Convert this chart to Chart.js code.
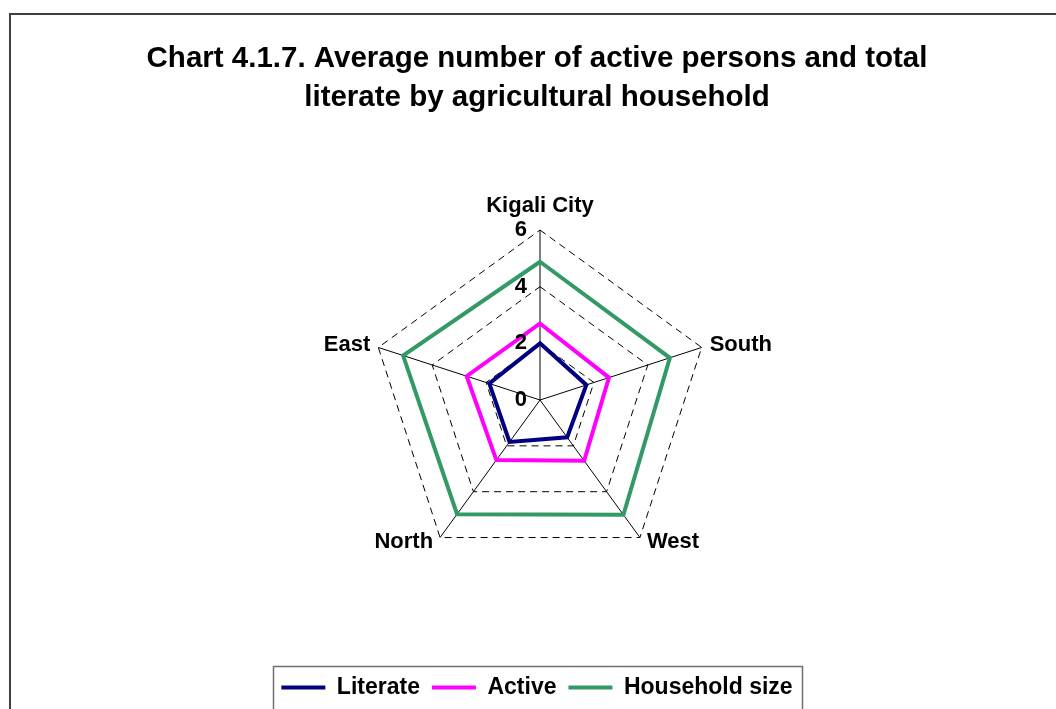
<!DOCTYPE html>
<html>
<head>
<meta charset="utf-8">
<script src="https://cdn.jsdelivr.net/npm/chart.js@4.4.1/dist/chart.umd.min.js"></script>
<style>
html,body{margin:0;padding:0;background:#fff;}
#wrap{width:1056px;height:709px;position:relative;overflow:hidden;}
</style>
</head>
<body>
<div id="wrap"><canvas id="c" width="1056" height="709"></canvas></div>
<script>
const categories = ['Kigali City', 'South', 'West', 'North', 'East'];
const literate = [2.0, 1.72, 1.63, 1.83, 1.88];
const active = [2.7, 2.56, 2.65, 2.62, 2.72];
const householdSize = [4.88, 4.82, 5.01, 4.98, 5.08];
const tickValues = [0, 2, 4, 6];
const tickLabels = ['0', '2', '4', '6'];
const seriesNames = ['Literate', 'Active', 'Household size'];
const titleLines = ['Chart 4.1.7. Average number of active persons and total', 'literate by agricultural household'];

const FONT = '"Liberation Sans", Arial, sans-serif';

const decor = {
  id: 'decor',
  beforeDraw(chart) {
    const c = chart.ctx;
    c.save();
    c.fillStyle = '#fff';
    c.fillRect(0, 0, chart.width, chart.height);
    c.strokeStyle = '#404040';
    c.lineWidth = 2;
    c.strokeRect(10, 14, 1100, 800);
    c.restore();
  },
  afterDatasetsDraw(chart) {
    const s = chart.scales.r;
    const c = chart.ctx;
    c.save();
    c.fillStyle = '#000';
    c.font = 'bold 22px ' + FONT;
    c.textAlign = 'right';
    c.textBaseline = 'middle';
    tickValues.forEach((v, i) => {
      const p = s.getPointPositionForValue(0, v);
      c.fillText(tickLabels[i], s.xCenter - 13, p.y);
    });
    categories.forEach((lab, i) => {
      const p = s.getPointPosition(i, s.drawingArea);
      const dx = p.x - s.xCenter, dy = p.y - s.yCenter;
      if (Math.abs(dx) < 1) {
        c.textAlign = 'center';
        c.textBaseline = 'alphabetic';
        c.fillText(lab, p.x, dy < 0 ? p.y - 18 : p.y + 30);
      } else {
        c.textAlign = dx > 0 ? 'left' : 'right';
        c.textBaseline = 'middle';
        const off = dy < 0 ? 8 : 7;
        c.fillText(lab, p.x + (dx > 0 ? off : -off), p.y + (dy < 0 ? -3 : 4));
      }
    });
    c.restore();
  },
  afterDraw(chart) {
    const lg = chart.legend;
    if (!lg || !lg.legendHitBoxes || !lg.legendHitBoxes.length) return;
    const hb = lg.legendHitBoxes;
    const last = hb[hb.length - 1];
    const l = hb[0].left - 8;
    const r = last.left + last.width + 10;
    const t = hb[0].top - 10;
    const c = chart.ctx;
    c.save();
    c.strokeStyle = '#707070';
    c.lineWidth = 1.5;
    c.strokeRect(Math.round(l) + 0.5, Math.round(t) + 0.5, Math.round(r - l), 100);
    c.restore();
  }
};

const colors = ['#000080', '#FF00FF', '#339966'];
const seriesData = [literate, active, householdSize];

new Chart(document.getElementById('c'), {
  type: 'radar',
  data: {
    labels: categories,
    datasets: seriesNames.map((name, i) => ({
      label: name,
      data: seriesData[i],
      borderColor: colors[i],
      backgroundColor: colors[i],
      borderWidth: 4,
      fill: false,
      pointRadius: 0,
      pointHoverRadius: 0,
      clip: false
    }))
  },
  options: {
    responsive: false,
    animation: false,
    devicePixelRatio: 1,
    layout: { padding: { left: 18, right: 0, top: 0, bottom: 0 } },
    elements: { line: { tension: 0, borderJoinStyle: 'miter' } },
    plugins: {
      title: {
        display: true,
        text: titleLines,
        color: '#000',
        font: { family: FONT, size: 29.5, weight: 'bold', lineHeight: '39px' },
        padding: { top: 39, bottom: 10 }
      },
      legend: {
        display: true,
        position: 'bottom',
        labels: {
          font: { family: FONT, size: 23, weight: 'bold' },
          color: '#000',
          boxWidth: 44,
          boxHeight: 4,
          padding: 12,
          generateLabels(chart) {
            return chart.data.datasets.map((d, i) => ({
              text: d.label,
              fillStyle: d.borderColor,
              strokeStyle: d.borderColor,
              lineWidth: 0,
              hidden: false,
              datasetIndex: i,
              fontColor: '#000'
            }));
          }
        }
      },
      tooltip: { enabled: false }
    },
    scales: {
      r: {
        min: 0,
        max: 6,
        ticks: { stepSize: 2, display: false },
        pointLabels: { display: false },
        grid: { color: '#000', lineWidth: 1, circular: false, borderDash: [7, 5] },
        border: { dash: [7, 5] },
        angleLines: { color: '#000', lineWidth: 1 },
        afterFit(scale) {
          scale.xCenter = 540;
          scale.yCenter = 400;
          scale.drawingArea = 170;
        }
      }
    }
  },
  plugins: [decor]
});
</script>
</body>
</html>
